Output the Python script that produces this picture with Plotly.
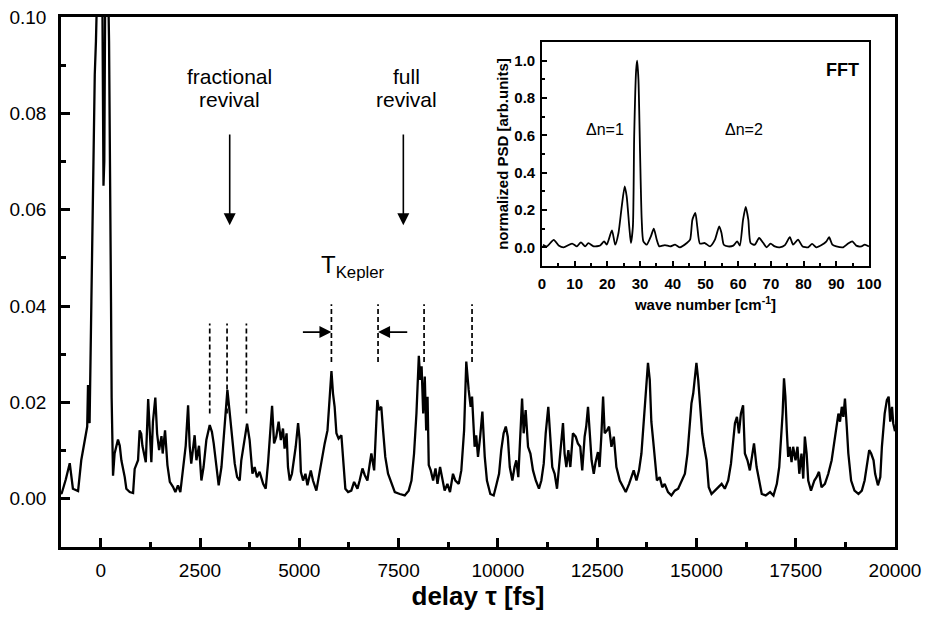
import plotly.graph_objects as go

# ---------------- main trace: delay vs signal ----------------
delay_fs = [
    -1000, -980, -880, -780, -700, -570, -490, -400, -340, -320,
    -280, -235, -200, -170, -150, -120, -60, -20, 30, 70,
    90, 130, 160, 210, 240, 260, 275, 295, 310, 350,
    435, 480, 520, 605, 645, 730, 815, 855, 940, 980,
    1020, 1050, 1135, 1195, 1235, 1275, 1315, 1375, 1420, 1470,
    1530, 1560, 1620, 1680, 1740, 1820, 1880, 1945, 2005, 2090,
    2140, 2200, 2240, 2280, 2325, 2365, 2410, 2475, 2535, 2590,
    2660, 2745, 2800, 2845, 2910, 2970, 3040, 3120, 3190, 3250,
    3310, 3375, 3435, 3500, 3540, 3600, 3685, 3750, 3820, 3875,
    3935, 4000, 4090, 4155, 4215, 4315, 4365, 4420, 4480, 4535,
    4590, 4630, 4680, 4715, 4760, 4815, 4865, 4910, 4970, 5010,
    5040, 5095, 5155, 5205, 5290, 5345, 5430, 5515, 5570, 5640,
    5710, 5765, 5810, 5850, 5890, 5935, 5990, 6060, 6100, 6160,
    6230, 6310, 6380, 6465, 6520, 6590, 6650, 6715, 6775, 6815,
    6885, 6925, 6965, 7005, 7065, 7110, 7165, 7235, 7320, 7405,
    7530, 7655, 7755, 7825, 7890, 7950, 8010, 8045, 8080, 8120,
    8160, 8195, 8230, 8260, 8310, 8370, 8430, 8480, 8545, 8605,
    8660, 8730, 8795, 8870, 8930, 9015, 9080, 9150, 9205, 9265,
    9315, 9350, 9375, 9415, 9455, 9500, 9555, 9610, 9670, 9725,
    9810, 9895, 9960, 10030, 10085, 10145, 10200, 10250, 10300, 10365,
    10420, 10465, 10515, 10550, 10610, 10650, 10700, 10760, 10820, 10885,
    10955, 11035, 11095, 11155, 11205, 11270, 11320, 11370, 11430, 11490,
    11555, 11605, 11640, 11680, 11725, 11775, 11825, 11890, 11960, 12015,
    12075, 12125, 12185, 12225, 12270, 12310, 12360, 12415, 12460, 12520,
    12560, 12605, 12650, 12690, 12750, 12800, 12860, 12920, 12985, 13070,
    13155, 13220, 13305, 13360, 13420, 13490, 13555, 13615, 13675, 13740,
    13780, 13825, 13865, 13910, 13955, 14005, 14075, 14140, 14200, 14285,
    14370, 14455, 14540, 14625, 14710, 14775, 14835, 14875, 14920, 14960,
    15000, 15045, 15085, 15145, 15195, 15255, 15310, 15380, 15465, 15550,
    15635, 15715, 15800, 15870, 15925, 15970, 16020, 16070, 16120, 16175,
    16220, 16285, 16345, 16405, 16450, 16515, 16575, 16645, 16745, 16855,
    16940, 17025, 17085, 17135, 17170, 17205, 17240, 17275, 17310, 17350,
    17395, 17435, 17495, 17545, 17590, 17645, 17690, 17730, 17775, 17815,
    17885, 17970, 18025, 18085, 18150, 18235, 18320, 18405, 18470, 18530,
    18575, 18615, 18660, 18700, 18740, 18785, 18825, 18895, 18980, 19080,
    19165, 19235, 19290, 19350, 19400, 19460, 19500, 19570, 19630, 19670,
    19740, 19795, 19840, 19880, 19925, 19955, 20000,
]
signal = [
    0.0010, 0.0012, 0.0040, 0.0074, 0.0021, 0.0016, 0.0080, 0.0120, 0.0150, 0.0236,
    0.0157, 0.0410, 0.0600, 0.0800, 0.0880, 0.0950, 0.1150, 0.1300, 0.1200, 0.0650,
    0.0700, 0.1300, 0.1200, 0.0950, 0.0700, 0.0400, 0.0210, 0.0052, 0.0048, 0.0094,
    0.0123, 0.0110, 0.0080, 0.0045, 0.0021, 0.0014, 0.0012, 0.0062, 0.0080, 0.0142,
    0.0135, 0.0110, 0.0076, 0.0207, 0.0142, 0.0076, 0.0160, 0.0210, 0.0135, 0.0101,
    0.0130, 0.0094, 0.0142, 0.0070, 0.0035, 0.0025, 0.0014, 0.0028, 0.0014, 0.0080,
    0.0110, 0.0194, 0.0110, 0.0073, 0.0111, 0.0132, 0.0080, 0.0110, 0.0038, 0.0066,
    0.0122, 0.0153, 0.0139, 0.0115, 0.0070, 0.0028, 0.0066, 0.0150, 0.0226, 0.0177,
    0.0129, 0.0073, 0.0045, 0.0038, 0.0080, 0.0115, 0.0156, 0.0122, 0.0052, 0.0066,
    0.0045, 0.0056, 0.0031, 0.0021, 0.0076, 0.0193, 0.0115, 0.0129, 0.0160, 0.0122,
    0.0146, 0.0104, 0.0136, 0.0066, 0.0038, 0.0052, 0.0080, 0.0108, 0.0157, 0.0122,
    0.0056, 0.0038, 0.0052, 0.0028, 0.0059, 0.0038, 0.0017, 0.0059, 0.0080, 0.0115,
    0.0142, 0.0208, 0.0265, 0.0218, 0.0191, 0.0136, 0.0125, 0.0132, 0.0087, 0.0021,
    0.0014, 0.0017, 0.0035, 0.0021, 0.0038, 0.0063, 0.0049, 0.0038, 0.0073, 0.0094,
    0.0059, 0.0150, 0.0205, 0.0184, 0.0191, 0.0142, 0.0087, 0.0052, 0.0031, 0.0014,
    0.0010, 0.0007, 0.0017, 0.0038, 0.0094, 0.0177, 0.0297, 0.0247, 0.0275, 0.0177,
    0.0254, 0.0142, 0.0212, 0.0070, 0.0059, 0.0038, 0.0063, 0.0031, 0.0066, 0.0038,
    0.0017, 0.0031, 0.0014, 0.0052, 0.0038, 0.0031, 0.0059, 0.0142, 0.0285, 0.0226,
    0.0191, 0.0212, 0.0157, 0.0108, 0.0132, 0.0087, 0.0129, 0.0181, 0.0087, 0.0038,
    0.0010, 0.0007, 0.0028, 0.0052, 0.0101, 0.0136, 0.0150, 0.0129, 0.0066, 0.0038,
    0.0066, 0.0080, 0.0045, 0.0101, 0.0208, 0.0136, 0.0184, 0.0108, 0.0094, 0.0059,
    0.0038, 0.0021, 0.0038, 0.0073, 0.0136, 0.0191, 0.0129, 0.0066, 0.0052, 0.0021,
    0.0080, 0.0122, 0.0157, 0.0094, 0.0066, 0.0101, 0.0066, 0.0136, 0.0129, 0.0115,
    0.0108, 0.0059, 0.0129, 0.0150, 0.0191, 0.0142, 0.0080, 0.0052, 0.0076, 0.0097,
    0.0066, 0.0129, 0.0212, 0.0136, 0.0142, 0.0150, 0.0108, 0.0129, 0.0066, 0.0038,
    0.0024, 0.0014, 0.0031, 0.0045, 0.0059, 0.0038, 0.0059, 0.0094, 0.0157, 0.0233,
    0.0282, 0.0247, 0.0160, 0.0122, 0.0087, 0.0038, 0.0045, 0.0024, 0.0031, 0.0014,
    0.0007, 0.0017, 0.0021, 0.0038, 0.0052, 0.0094, 0.0157, 0.0198, 0.0219, 0.0254,
    0.0282, 0.0247, 0.0205, 0.0136, 0.0108, 0.0080, 0.0024, 0.0010, 0.0017, 0.0024,
    0.0031, 0.0021, 0.0038, 0.0073, 0.0129, 0.0157, 0.0170, 0.0136, 0.0177, 0.0194,
    0.0094, 0.0080, 0.0059, 0.0094, 0.0115, 0.0066, 0.0038, 0.0010, 0.0007, 0.0014,
    0.0007, 0.0031, 0.0066, 0.0122, 0.0177, 0.0250, 0.0212, 0.0142, 0.0087, 0.0108,
    0.0076, 0.0108, 0.0080, 0.0108, 0.0052, 0.0094, 0.0042, 0.0129, 0.0094, 0.0038,
    0.0017, 0.0038, 0.0045, 0.0056, 0.0024, 0.0031, 0.0052, 0.0080, 0.0115, 0.0157,
    0.0177, 0.0160, 0.0191, 0.0170, 0.0208, 0.0150, 0.0094, 0.0038, 0.0017, 0.0010,
    0.0017, 0.0038, 0.0066, 0.0101, 0.0094, 0.0080, 0.0052, 0.0028, 0.0045, 0.0108,
    0.0177, 0.0205, 0.0212, 0.0160, 0.0191, 0.0157, 0.0140,
]
assert len(delay_fs) == len(signal)

# ---------------- inset: FFT ----------------
wave_number = [
    0.3, 1.5, 3.6, 5.1, 6.6, 9.2, 10.7, 11.9, 13.2, 14.2,
    15.8, 17.8, 19.0, 19.8, 21.4, 22.4, 23.4, 24.4, 25.3, 25.9,
    26.7, 27.2, 27.8, 28.2, 28.8, 29.1, 29.5, 30.0, 30.5, 31.0,
    32.0, 33.3, 34.2, 35.1, 35.9, 37.6, 39.2, 40.7, 42.2, 44.3,
    45.3, 46.0, 46.9, 47.5, 48.3, 49.8, 51.4, 52.9, 54.2, 54.9,
    55.6, 56.9, 58.5, 59.7, 60.5, 61.5, 62.3, 63.1, 63.8, 65.1,
    66.4, 67.7, 68.7, 69.9, 71.2, 72.7, 74.3, 75.8, 76.8, 78.3,
    79.7, 81.4, 82.6, 83.9, 85.5, 87.0, 87.8, 88.8, 90.0, 92.1,
    93.6, 94.9, 96.1, 97.7, 98.7, 100.0,
]
psd = [
    0.014, 0.005, 0.040, 0.010, 0.000, 0.020, 0.005, 0.027, 0.005, 0.023,
    0.005, 0.010, 0.032, 0.014, 0.091, 0.014, 0.077, 0.220, 0.327, 0.273,
    0.110, 0.023, 0.110, 0.595, 0.950, 1.000, 0.900, 0.505, 0.148, 0.032,
    0.014, 0.059, 0.100, 0.041, 0.005, 0.012, 0.005, 0.014, 0.000, 0.023,
    0.041, 0.148, 0.184, 0.110, 0.020, 0.023, 0.005, 0.041, 0.112, 0.077,
    0.014, 0.005, 0.009, 0.032, 0.009, 0.148, 0.216, 0.148, 0.023, 0.014,
    0.050, 0.023, 0.000, 0.020, 0.005, 0.000, 0.012, 0.055, 0.014, 0.041,
    0.005, 0.000, 0.018, 0.000, 0.012, 0.032, 0.054, 0.014, 0.005, 0.000,
    0.020, 0.032, 0.009, 0.005, 0.014, 0.005,
]
assert len(wave_number) == len(psd)

# marker times (fs) of the dashed lines
fractional_marks = [2745, 3181, 3668]
kepler_marks = [5809, 6983, 8142, 9350]
fractional_arrow_x = 3248
full_arrow_x = 7620

FONT = "Liberation Sans, Arial, Helvetica, sans-serif"
BLACK = "#000000"

fig = go.Figure()
fig.add_trace(go.Scatter(x=delay_fs, y=signal, mode="lines",
                         line=dict(color=BLACK, width=2.3), xaxis="x", yaxis="y",
                         showlegend=False, hoverinfo="skip"))
fig.add_trace(go.Scatter(x=wave_number, y=psd, mode="lines",
                         line=dict(color=BLACK, width=1.8, shape="spline", smoothing=0.6),
                         xaxis="x2", yaxis="y2", showlegend=False, hoverinfo="skip"))

shapes = []
for xm in fractional_marks:
    shapes.append(dict(type="line", xref="x", yref="y", x0=xm, x1=xm, y0=0.0177, y1=0.0364,
                       line=dict(color=BLACK, width=1.7, dash="5px,3px")))
for xm in kepler_marks:
    shapes.append(dict(type="line", xref="x", yref="y", x0=xm, x1=xm, y0=0.0284, y1=0.0404,
                       line=dict(color=BLACK, width=1.7, dash="5px,3px")))

annotations = [
    dict(text="fractional", x=fractional_arrow_x, y=0.0876, xref="x", yref="y", showarrow=False,
         font=dict(family=FONT, size=21, color=BLACK)),
    dict(text="revival", x=fractional_arrow_x, y=0.0828, xref="x", yref="y", showarrow=False,
         font=dict(family=FONT, size=21, color=BLACK)),
    dict(text="full", x=full_arrow_x + 70, y=0.0876, xref="x", yref="y", showarrow=False,
         font=dict(family=FONT, size=21, color=BLACK)),
    dict(text="revival", x=full_arrow_x + 70, y=0.0828, xref="x", yref="y", showarrow=False,
         font=dict(family=FONT, size=21, color=BLACK)),
    # vertical arrows
    dict(x=fractional_arrow_x, y=0.0568, ax=fractional_arrow_x, ay=0.0759, xref="x", yref="y",
         axref="x", ayref="y", showarrow=True, arrowhead=2, arrowsize=1.5, arrowwidth=1.6,
         arrowcolor=BLACK, text=""),
    dict(x=full_arrow_x, y=0.0568, ax=full_arrow_x, ay=0.0759, xref="x", yref="y",
         axref="x", ayref="y", showarrow=True, arrowhead=2, arrowsize=1.5, arrowwidth=1.6,
         arrowcolor=BLACK, text=""),
    # horizontal arrows (T_Kepler)
    dict(x=kepler_marks[0], y=0.0346, ax=5053, ay=0.0346, xref="x", yref="y",
         axref="x", ayref="y", showarrow=True, arrowhead=2, arrowsize=1.5, arrowwidth=1.6,
         arrowcolor=BLACK, text=""),
    dict(x=kepler_marks[1], y=0.0346, ax=7756, ay=0.0346, xref="x", yref="y",
         axref="x", ayref="y", showarrow=True, arrowhead=2, arrowsize=1.5, arrowwidth=1.6,
         arrowcolor=BLACK, text=""),
    dict(text="T<sub>Kepler</sub>", x=6345, y=0.0482, xref="x", yref="y", showarrow=False,
         font=dict(family=FONT, size=24, color=BLACK)),
    # inset labels
    dict(text="<b>FFT</b>", x=92, y=0.95, xref="x2", yref="y2", showarrow=False,
         font=dict(family=FONT, size=18, color=BLACK)),
    dict(text="Δn=1", x=19.2, y=0.63, xref="x2", yref="y2", showarrow=False,
         font=dict(family=FONT, size=16, color=BLACK)),
    dict(text="Δn=2", x=61.8, y=0.63, xref="x2", yref="y2", showarrow=False,
         font=dict(family=FONT, size=16, color=BLACK)),
]

main_axis = dict(showline=True, linewidth=2.5, linecolor=BLACK, mirror=True,
                 ticks="inside", tickwidth=2.5, tickcolor=BLACK, ticklen=9,
                 showgrid=False, zeroline=False, automargin=False,
                 tickfont=dict(family=FONT, size=19, color=BLACK))
inset_axis = dict(showline=True, linewidth=1.6, linecolor=BLACK, mirror=True,
                  ticks="inside", tickwidth=1.5, tickcolor=BLACK, ticklen=5,
                  showgrid=False, zeroline=False, automargin=False,
                  tickfont=dict(family=FONT, size=15, color=BLACK, weight="bold"))

fig.update_layout(
    width=926, height=624,
    margin=dict(l=61, r=31, t=17, b=77),
    paper_bgcolor="white", plot_bgcolor="white",
    font=dict(family=FONT, color=BLACK),
    xaxis=dict(main_axis, range=[-1000, 20000], tick0=0, dtick=2500, tickformat="d",
               minor=dict(ticks="inside", ticklen=5, tickwidth=2.5, tickcolor=BLACK, dtick=1250, tick0=0),
               ticklabelstandoff=4,
               title=dict(text="<b>delay τ [fs]</b>", standoff=7,
                          font=dict(family=FONT, size=26, color=BLACK))),
    yaxis=dict(main_axis, range=[-0.01, 0.1], tick0=0, dtick=0.02, tickformat=".2f",
               minor=dict(ticks="inside", ticklen=5, tickwidth=2.5, tickcolor=BLACK, dtick=0.01, tick0=0),
               ticklabelstandoff=8),
    xaxis2=dict(inset_axis, domain=[0.5767, 0.9688], anchor="y2", range=[0, 100],
                tick0=0, dtick=10,
                minor=dict(ticks="inside", ticklen=3, tickwidth=1.5, tickcolor=BLACK, dtick=5, tick0=0),
                ticklabelstandoff=3,
                title=dict(text="<b>wave number [cm<sup>-1</sup>]</b>", standoff=9,
                           font=dict(family=FONT, size=15, color=BLACK))),
    yaxis2=dict(inset_axis, domain=[0.5302, 0.9528], anchor="x2", range=[-0.1, 1.1],
                tick0=0, dtick=0.2, tickformat=".1f",
                minor=dict(ticks="inside", ticklen=3, tickwidth=1.5, tickcolor=BLACK, dtick=0.1, tick0=0),
                ticklabelstandoff=2,
                title=dict(text="<b>normalized PSD [arb.units]</b>", standoff=2,
                           font=dict(family=FONT, size=15, color=BLACK))),
    shapes=shapes,
    annotations=annotations,
)

fig.write_html("out.html")
